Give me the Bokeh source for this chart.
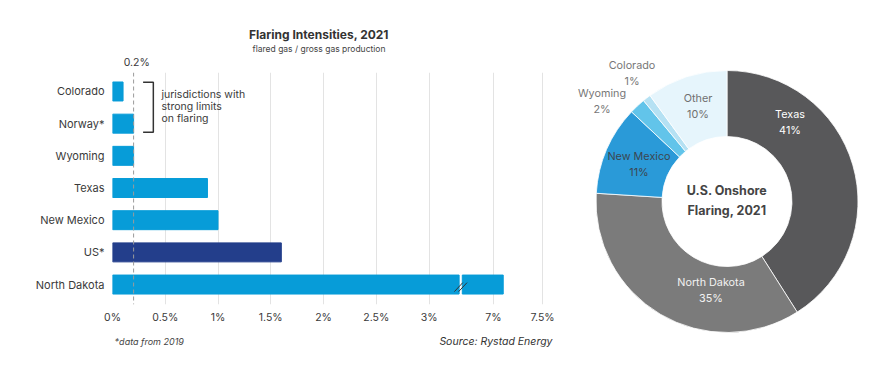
import math
from bokeh.plotting import figure
from bokeh.models import Range1d, FixedTicker, Span, ColumnDataSource
from bokeh.layouts import row
from bokeh.embed import file_html
from bokeh.resources import INLINE
from bokeh.core.properties import value

FONT = "Inter"

# ---------------- data ----------------
regions = ["Colorado", "Norway*", "Wyoming", "Texas", "New Mexico", "US*", "North Dakota"]
intensity = [0.1, 0.2, 0.2, 0.9, 1.0, 1.6, 7.1]
highlight = ["US*"]
tick_values = [0, 0.5, 1, 1.5, 2, 2.5, 3, 7, 7.5]
tick_labels = ["0%", "0.5%", "1%", "1.5%", "2%", "2.5%", "3%", "7%", "7.5%"]
reference_line = 0.2

share_names = ["Texas", "North Dakota", "New Mexico", "Wyoming", "Colorado", "Other"]
share_values = [41, 35, 11, 2, 1, 10]

# ---------------- styles ----------------
BAR_BLUE = "#079cd8"
BAR_NAVY = "#233e8b"
share_colors = ["#58585a", "#7b7b7b", "#2a9ad8", "#62c4ea", "#b5e1f3", "#e6f5fc"]
share_text_colors = ["#ffffff", "#f2f2f2", "#3c4650", "#777777", "#777777", "#707070"]
# label anchor offsets (relative to donut centre, px)
share_label_pos = [(63, 79), (-16, -89), (-88, 37), (-125, 100), (-95, 128), (-29, 95)]

# broken axis: values above the break are drawn after a gap
BREAK_POS = 3.3
HIGH_START = 7.0
HIGH_POS = 3.61
HIGH_SCALE = 0.93
GAP = 0.015


def to_axis(v):
    if v <= BREAK_POS:
        return v
    return HIGH_POS + (v - HIGH_START) * HIGH_SCALE


# ---------------- bar chart ----------------
n = len(regions)
ypos = [n - 1 - i for i in range(n)]

p1 = figure(width=570, height=378, x_range=Range1d(0, 4.17), y_range=Range1d(-0.62, 6.59),
            output_backend="svg", toolbar_location=None,
            min_border_left=112, min_border_right=18, min_border_top=72, min_border_bottom=74)
p1.outline_line_color = None

lefts, rights, ys, cols = [], [], [], []
for name, v, y in zip(regions, intensity, ypos):
    c = BAR_NAVY if name in highlight else BAR_BLUE
    if v > BREAK_POS:
        lefts += [0, BREAK_POS + GAP]
        rights += [BREAK_POS - GAP, to_axis(v)]
        ys += [y, y]
        cols += [c, c]
    else:
        lefts.append(0)
        rights.append(to_axis(v))
        ys.append(y)
        cols.append(c)

src = ColumnDataSource(dict(left=lefts, right=rights, y=ys, color=cols))
p1.hbar(y="y", left="left", right="right", height=0.59, color="color", source=src)

# break marks
for name, v, y in zip(regions, intensity, ypos):
    if v > BREAK_POS:
        p1.segment(x0=[BREAK_POS - 0.06, BREAK_POS - 0.02], y0=[y - 0.22, y - 0.22],
                   x1=[BREAK_POS + 0.02, BREAK_POS + 0.06], y1=[y + 0.06, y + 0.06],
                   line_color="#333333", line_width=1)

ticks = [to_axis(t) for t in tick_values]
p1.xaxis.ticker = FixedTicker(ticks=ticks)
p1.xgrid.ticker = FixedTicker(ticks=ticks)
p1.xaxis.major_label_overrides = {to_axis(t): lab for t, lab in zip(tick_values, tick_labels)}
p1.xgrid.grid_line_color = "#e3e3e3"
p1.ygrid.visible = False
p1.yaxis.ticker = FixedTicker(ticks=ypos)
p1.yaxis.major_label_overrides = {y: r for y, r in zip(ypos, regions)}
for ax in (p1.xaxis[0], p1.yaxis[0]):
    ax.axis_line_color = None
    ax.major_tick_line_color = None
    ax.minor_tick_line_color = None
    ax.major_tick_out = 0
    ax.major_tick_in = 0
    ax.minor_tick_out = 0
    ax.major_label_text_font = FONT
    ax.major_label_text_color = "#3a3a3a"
p1.xaxis.major_label_text_font_size = "10.5px"
p1.xaxis.major_label_standoff = 6
p1.yaxis.major_label_text_font_size = "11px"
p1.yaxis.major_label_standoff = 8

p1.add_layout(Span(location=to_axis(reference_line), dimension="height",
                   line_color="#9a9a9a", line_dash="4 3", line_width=1))

# bracket
by_top, by_bot = 6.29, 4.73
bx0, bx1 = 0.29, 0.387
p1.multi_line(xs=[[bx0, bx1, bx1, bx0]], ys=[[by_top, by_top, by_bot, by_bot]],
              line_color="#333333", line_width=1.5)
p1.text(x=[0.464] * 3, y=[5.90, 5.53, 5.15],
        text=["jurisdictions with", "strong limits", "on flaring"],
        text_font=value(FONT), text_font_size="10.5px", text_color="#3a3a3a",
        text_align="left", text_baseline="middle")


def outside_text(fig, x, y, text, size, color, align="center", style="normal"):
    return fig.text(x=[x], y=[y], text=[text], text_font=value(FONT), text_font_size=size,
                    text_font_style=style, text_color=color, text_align=align,
                    text_baseline="middle", level="overlay")


# titles / notes (outside the frame)
outside_text(p1, to_axis(reference_line) + 0.03, 6.9, f"{reference_line}%", "10.5px", "#3a3a3a")
outside_text(p1, 1.957, 7.76, "Flaring Intensities, 2021", "12px", "#333333", style="bold")
outside_text(p1, 1.957, 7.31, "flared gas / gross gas production", "8.5px", "#444444")
outside_text(p1, 0.02, -1.77, "*data from 2019", "9px", "#444444", align="left", style="italic")
outside_text(p1, 4.17, -1.77, "Source: Rystad Energy", "10.5px", "#333333", align="right",
             style="italic")

# ---------------- donut ----------------
# frame shares top/bottom with the bar chart (72..304 px); 1 data unit = 1 px
p2 = figure(width=321, height=378, x_range=Range1d(-156.5, 164.5), y_range=Range1d(-103, 129),
            output_backend="svg", toolbar_location=None,
            min_border_left=0, min_border_right=0, min_border_top=72, min_border_bottom=74)
p2.axis.visible = False
p2.grid.visible = False
p2.outline_line_color = None

total = float(sum(share_values))
starts, ends = [], []
cum = 0.0
for v in share_values:
    starts.append(math.pi / 2 - 2 * math.pi * cum / total)
    cum += v
    ends.append(math.pi / 2 - 2 * math.pi * cum / total)

dsrc = ColumnDataSource(dict(start=starts, end=ends, color=share_colors))
p2.annular_wedge(x=0, y=0, inner_radius=65, outer_radius=131, start_angle="start",
                 end_angle="end", direction="clock", fill_color="color",
                 line_color="white", line_width=0.8, source=dsrc, level="overlay")

lsrc = ColumnDataSource(dict(
    x=[pp[0] for pp in share_label_pos], y=[pp[1] for pp in share_label_pos],
    text=[f"{nm}\n{v}%" for nm, v in zip(share_names, share_values)],
    color=share_text_colors))
p2.text(x="x", y="y", text="text", text_color="color", source=lsrc,
        text_font=value(FONT), text_font_size="10.8px", text_align="center",
        text_baseline="middle", text_line_height=1.2, level="overlay")
p2.text(x=[0], y=[1], text=["U.S. Onshore\nFlaring, 2021"], text_font=value(FONT),
        text_font_size="12.5px", text_font_style="bold", text_color="#444444",
        text_align="center", text_baseline="middle", text_line_height=1.3,
        level="overlay")

layout = row(p1, p2)
open("out.html", "w").write(file_html(layout, INLINE))
